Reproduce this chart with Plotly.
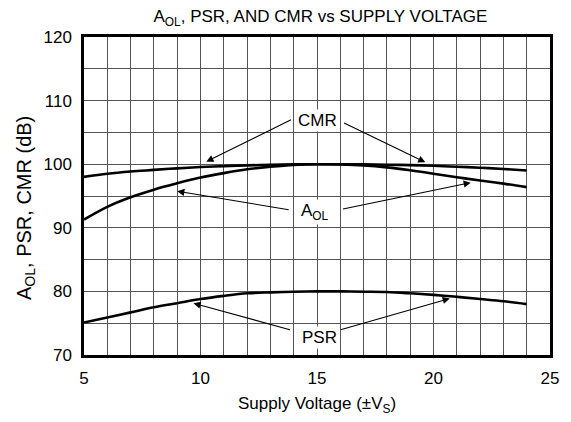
import plotly.graph_objects as go

supply_v = [5, 6, 7, 8, 9, 10, 11, 12, 13, 14, 15, 16, 17, 18, 19, 20, 21, 22, 23, 24]
cmr_db = [98.0, 98.5, 98.85, 99.1, 99.35, 99.55, 99.7, 99.82, 99.9, 99.97, 100.0,
          100.0, 99.98, 99.92, 99.85, 99.75, 99.6, 99.45, 99.25, 99.0]
aol_db = [91.3, 93.3, 94.8, 96.0, 97.0, 97.9, 98.6, 99.2, 99.6, 99.9, 100.0,
          99.95, 99.8, 99.5, 99.05, 98.5, 97.95, 97.45, 96.95, 96.4]
psr_db = [75.1, 75.9, 76.7, 77.5, 78.15, 78.8, 79.3, 79.7, 79.85, 79.95, 80.0,
          80.0, 79.95, 79.9, 79.7, 79.45, 79.15, 78.8, 78.45, 78.0]

x_ticks = [5, 10, 15, 20, 25]
y_ticks = [70, 80, 90, 100, 110, 120]

# label positions (data coords) and arrow tip/tail pairs
labels = [
    ("CMR", 15.0, 106.8),
    ("A<sub>OL</sub>", 14.9, 92.5),
    ("PSR", 15.1, 72.8),
]
arrows = [
    # (tip_x, tip_y, tail_x, tail_y)
    (10.25, 100.4, 13.95, 107.1),
    (19.65, 100.3, 16.1, 106.6),
    (9.0, 95.75, 13.85, 92.8),
    (21.6, 97.1, 16.05, 92.9),
    (9.7, 78.15, 13.9, 73.9),
    (20.7, 78.9, 15.95, 73.9),
]

fig = go.Figure()
for name, vals in [("CMR", cmr_db), ("AOL", aol_db), ("PSR", psr_db)]:
    fig.add_trace(go.Scatter(x=supply_v, y=vals, mode="lines", name=name,
                             line=dict(color="black", width=2.6, shape="spline"),
                             showlegend=False, hoverinfo="skip"))

ann = []
for tx, ty, ax, ay in arrows:
    ann.append(dict(x=tx, y=ty, ax=ax, ay=ay, xref="x", yref="y", axref="x", ayref="y",
                    text="", showarrow=True, arrowhead=2, arrowsize=1.3, arrowwidth=1.1,
                    arrowcolor="black"))
for txt, lx, ly in labels:
    ann.append(dict(x=lx, y=ly, xref="x", yref="y", text=txt, showarrow=False,
                    bgcolor="white", font=dict(size=17, color="black"),
                    borderpad=1))

ann.append(dict(x=0.5, y=0, xref="paper", yref="paper", yshift=-50, yanchor="middle",
                text="Supply Voltage (±V<sub>S</sub>)", showarrow=False,
                font=dict(size=17, color="black")))
ann.append(dict(x=0, y=0.5, xref="paper", yref="paper", xshift=-59, yshift=-12,
                xanchor="center", yanchor="middle", textangle=-90,
                text="A<sub>OL</sub>, PSR, CMR (dB)", showarrow=False,
                font=dict(size=20, color="black")))

grid_col = "#555555"
fig.update_layout(
    width=571, height=422,
    margin=dict(l=84, r=14, t=37, b=67),
    paper_bgcolor="white", plot_bgcolor="white",
    font=dict(family="Liberation Sans, Arial, sans-serif", color="black"),
    title=dict(text="A<sub>OL</sub>, PSR, AND CMR vs SUPPLY VOLTAGE",
               x=0.5612, xanchor="center", y=1 - 16 / 422, yanchor="middle",
               yref="container", font=dict(size=17, color="black")),
    annotations=ann,
    xaxis=dict(range=[5, 25], tickvals=x_ticks, ticktext=[str(v) for v in x_ticks],
               showgrid=True, gridcolor=grid_col, gridwidth=1,
               minor=dict(dtick=1, showgrid=True, gridcolor=grid_col, gridwidth=1),
               showline=True, linecolor="black", linewidth=2.5, mirror=True,
               ticks="", zeroline=False, tickfont=dict(size=17, color="black"),
               ticklabelstandoff=6),
    yaxis=dict(range=[70, 120], tickvals=y_ticks, ticktext=[str(v) for v in y_ticks],
               showgrid=True, gridcolor=grid_col, gridwidth=1,
               minor=dict(dtick=5, showgrid=True, gridcolor=grid_col, gridwidth=1),
               showline=True, linecolor="black", linewidth=2.5, mirror=True,
               ticks="", zeroline=False, tickfont=dict(size=17, color="black"),
               ticklabelstandoff=6),
)

fig.write_html("out.html", config={"displayModeBar": False},
               post_script="document.body.style.margin='0px';")
